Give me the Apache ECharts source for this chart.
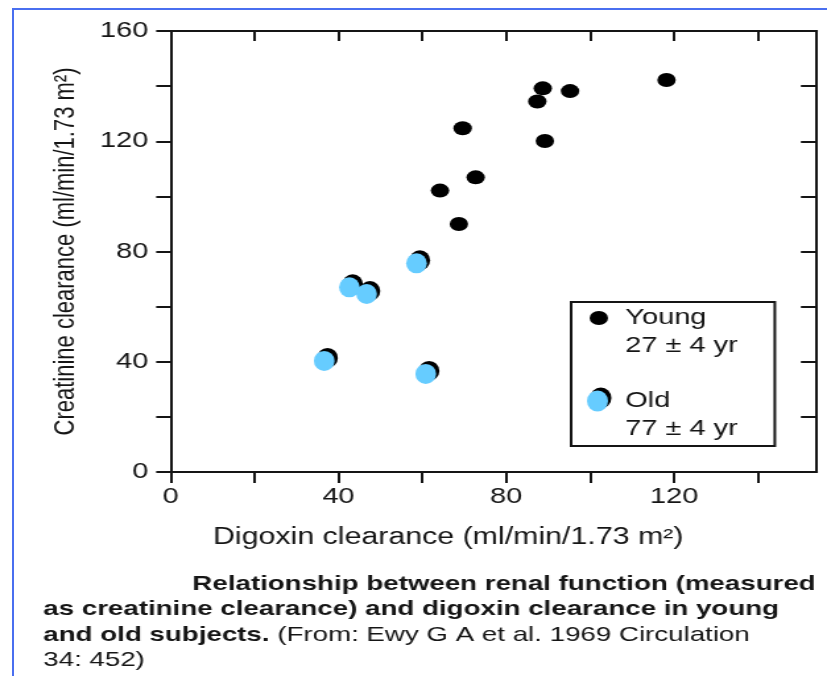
<!DOCTYPE html>
<html>
<head>
<meta charset="utf-8">
<title>Digoxin vs creatinine clearance</title>
<script src="https://cdn.jsdelivr.net/npm/echarts@6/dist/echarts.min.js"></script>
<style>
	html, body { margin: 0; padding: 0; background: #fff; overflow: hidden; }
	#frame {
		position: absolute; left: 12px; top: 8px; width: 900px; height: 800px;
		border-top: 2px solid #4a6ff0; border-left: 2px solid #4a6ff0;
	}
	/* the scanned figure is stretched sideways, so the chart is drawn narrow and widened */
	#mychart {
		position: absolute; left: 0; top: 0; width: 627px; height: 676px;
		transform: scaleX(1.31898); transform-origin: 0 0;
	}
</style>
</head>
<body>
<div id="frame"></div>
<div id="mychart"></div>
<script>
var youngDigoxin = [118.2, 88.7, 95.2, 87.4, 69.6, 89.2, 72.7, 64.2, 68.7];
var youngCreatinine = [142.2, 139.2, 138.2, 134.4, 124.7, 120.1, 106.9, 102.1, 90.0];
var oldDigoxin = [58.6, 42.6, 46.7, 36.6, 60.8];
var oldCreatinine = [75.7, 67.0, 64.6, 40.3, 35.6];

var groupNames = ['Young', 'Old'];
var groupAges = ['27 ± 4 yr', '77 ± 4 yr'];

var xTicks = [0, 20, 40, 60, 80, 100, 120, 140];
var xTickLabels = [0, 40, 80, 120];
var yTicks = [0, 20, 40, 60, 80, 100, 120, 140, 160];
var yTickLabels = [0, 40, 80, 120, 160];

var xTitle = 'Digoxin clearance (ml/min/1.73 m²)';
var yTitle = 'Creatinine clearance (ml/min/1.73 m²)';
var captionLines = [
	'Relationship between renal function (measured',
	'as creatinine clearance) and digoxin clearance in young',
	'and old subjects.',
	' (From: Ewy G A et al. 1969 Circulation',
	'34: 452)'
];

var FONT = "'Liberation Sans', Arial, Helvetica, sans-serif";
var INK = '#151515';

var page = {
	initial : function initial() {
		var myChart = echarts.init(document.getElementById('mychart'), null, {renderer : 'canvas'});
		myChart.setOption(this.buildOption());
	},

	pairs : function pairs(xs, ys) {
		var list = [];
		for (var i = 0; i < xs.length; i++) {
			list.push([xs[i], ys[i]]);
		}
		return list;
	},

	xAxisBase : function xAxisBase(pos, inside, showLabel) {
		return {
			type : 'value',
			position : pos,
			min : 0,
			max : 154,
			interval : 20,
			axisLine : {show : true, onZero : false, lineStyle : {color : INK, width : 2}},
			axisTick : {show : true, inside : inside, length : inside ? 10 : 11, customValues : xTicks,
				lineStyle : {color : INK, width : 2}},
			axisLabel : {show : showLabel, customValues : xTickLabels, margin : 14,
				fontSize : 22, fontFamily : FONT, color : INK},
			splitLine : {show : false}
		};
	},

	yAxisBase : function yAxisBase(pos, inside, showLabel) {
		return {
			type : 'value',
			position : pos,
			min : 0,
			max : 160,
			interval : 20,
			axisLine : {show : true, onZero : false, lineStyle : {color : INK, width : 2}},
			axisTick : {show : true, inside : inside, length : inside ? 12 : 11, customValues : yTicks,
				lineStyle : {color : INK, width : 2}},
			axisLabel : {show : showLabel, customValues : yTickLabels, margin : 17,
				fontSize : 22, fontFamily : FONT, color : INK},
			splitLine : {show : false}
		};
	},

	buildOption : function buildOption() {
		var xBottom = this.xAxisBase('bottom', false, true);
		xBottom.name = xTitle;
		xBottom.nameLocation = 'middle';
		xBottom.nameGap = 54;
		xBottom.nameTextStyle = {fontSize : 23, fontFamily : FONT, color : INK, padding : [0, 69, 0, 0]};

		var yLeft = this.yAxisBase('left', false, true);
		yLeft.name = yTitle;
		yLeft.nameLocation = 'middle';
		yLeft.nameRotate = 90;
		yLeft.nameGap = 68;
		yLeft.nameTextStyle = {fontSize : 22, fontFamily : FONT, color : INK};

		var youngIcon = 'path://M0 0M16 56M2 14A7 7 0 1 1 16 14A7 7 0 1 1 2 14Z';
		var oldIcon = 'path://M0 0M16 56M0 14A8 10.5 0 1 1 16 14A8 10.5 0 1 1 0 14Z';
		var oldShape = 'path://M0 50A50 50 0 1 1 100 50A50 50 0 1 1 0 50Z';
		var oldShadow = {shadowColor : '#000', shadowBlur : 0, shadowOffsetX : 2.5, shadowOffsetY : -3};

		var b = {fontSize : 21, fontWeight : 'bold', fontFamily : FONT, color : INK, lineHeight : 25.5};
		var n = {fontSize : 21, fontWeight : 'normal', fontFamily : FONT, color : INK, lineHeight : 25.5};

		var option = {
			animation : false,
			backgroundColor : 'transparent',
			grid : {left : 129.4, right : 7.8, top : 31, bottom : 204, containLabel : false},
			title : {
				left : 32.8,
				top : 571,
				padding : 0,
				text : '{i| }{b|' + captionLines[0] + '}\n{b|' + captionLines[1] + '}\n{b|' + captionLines[2] +
					'}{n|' + captionLines[3] + '}\n{n|' + captionLines[4] + '}',
				textStyle : {
					fontSize : 21, fontFamily : FONT, color : INK, lineHeight : 25.5,
					rich : {i : {width : 113, lineHeight : 25.5, fontSize : 21}, b : b, n : n}
				}
			},
			legend : {
				orient : 'vertical',
				left : 433,
				top : 302,
				padding : [2, 28, 3, 12],
				itemGap : 27,
				itemWidth : 16,
				itemHeight : 56,
				selectedMode : false,
				borderColor : INK,
				borderWidth : 2,
				borderRadius : 0,
				backgroundColor : '#fff',
				data : [
					{name : groupNames[0], icon : youngIcon},
					{name : groupNames[1], icon : oldIcon, itemStyle : oldShadow}
				],
				formatter : function(name) {
					return name + '\n' + groupAges[groupNames.indexOf(name)];
				},
				textStyle : {fontSize : 22, lineHeight : 28, fontFamily : FONT, color : INK, padding : [0, 0, 0, 8]}
			},
			xAxis : [xBottom, this.xAxisBase('top', true, false)],
			yAxis : [yLeft, this.yAxisBase('right', true, false)],
			series : [
				{
					name : groupNames[0],
					type : 'scatter',
					symbol : 'circle',
					symbolSize : 14,
					silent : true,
					itemStyle : {color : '#000', opacity : 1},
					data : this.pairs(youngDigoxin, youngCreatinine)
				},
				{
					name : groupNames[1],
					type : 'scatter',
					symbol : oldShape,
					symbolSize : [15.7, 20],
					silent : true,
					itemStyle : {color : '#66ccff', opacity : 1, shadowColor : '#000', shadowBlur : 0,
						shadowOffsetX : 2.5, shadowOffsetY : -3},
					data : this.pairs(oldDigoxin, oldCreatinine)
				}
			]
		};
		return option;
	}
};

page.initial();
</script>
</body>
</html>
